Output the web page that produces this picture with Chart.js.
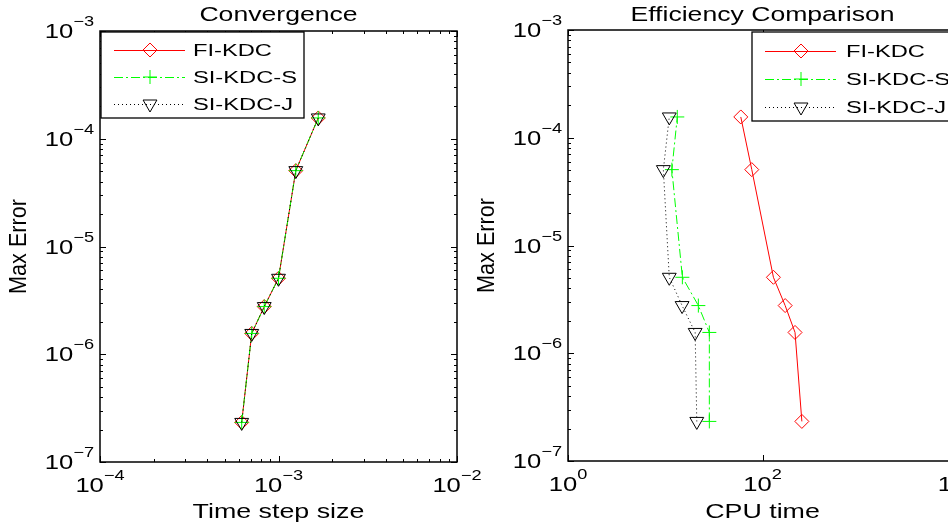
<!DOCTYPE html>
<html><head><meta charset="utf-8">
<script src="https://cdn.jsdelivr.net/npm/chart.js@4/dist/chart.umd.min.js"></script>
<style>
html,body{margin:0;padding:0;background:#fff;overflow:hidden;width:948px;height:527px;position:relative;}
canvas{position:absolute;top:0;}
#c1{left:0px;} #c2{left:474px;}
</style></head><body>
<canvas id="c1" width="500" height="527"></canvas>
<canvas id="c2" width="500" height="527"></canvas>
<script>
// ---------------- data ----------------
const seriesNames = ['FI-KDC', 'SI-KDC-S', 'SI-KDC-J'];
const timeStep = [6.22e-4, 7.08e-4, 8.32e-4, 1.0e-3, 1.25e-3, 1.67e-3];
const errFI = [2.33e-7, 1.56e-6, 2.77e-6, 5.07e-6, 5.06e-5, 1.56e-4];
const errS  = [2.33e-7, 1.56e-6, 2.77e-6, 5.07e-6, 5.06e-5, 1.56e-4];
const errJ  = [2.33e-7, 1.56e-6, 2.77e-6, 5.07e-6, 5.06e-5, 1.56e-4];
const cpuFI = [254, 216, 171, 129.5, 77.6, 59.8];
const cpuS  = [28.4, 28.4, 21.9, 15.0, 11.7, 13.3];
const cpuJ  = [21.1, 20.3, 14.9, 11.0, 9.56, 11.0];
const xExpLeft = [-4, -3, -2];
const xExpRight = [0, 2, 4];
const yExp = [-7, -6, -5, -4, -3];
const titles = ['Convergence', 'Efficiency Comparison'];
const xLabels = ['Time step size', 'CPU time'];
const yLabel = 'Max Error';

// ---------------- helpers ----------------
const FONT = '"Liberation Sans", Arimo, Arial, Helvetica, sans-serif';
function sText(ctx, str, x, y, size, sx, align, sy) {
  ctx.save();
  ctx.font = size + 'px ' + FONT;
  ctx.textBaseline = 'alphabetic';
  ctx.textAlign = 'left';
  ctx.fillStyle = '#000';
  const w = ctx.measureText(str).width * sx;
  const x0 = align === 'center' ? x - w / 2 : (align === 'right' ? x - w : x);
  ctx.translate(x0, y);
  ctx.scale(sx, sy || 1);
  ctx.fillText(str, 0, 0);
  ctx.restore();
  return w;
}
function textW(ctx, str, size, sx) {
  ctx.save(); ctx.font = size + 'px ' + FONT;
  const w = ctx.measureText(str).width * sx; ctx.restore(); return w;
}
const SX_T = 1.28, SX_S = 1.3;
function drawPow(ctx, e, x, y, mode) {
  const base = '10';
  const sup = e < 0 ? '\u2212' + (-e) : String(e);
  const wb = textW(ctx, base, 20, SX_T);
  const ws = textW(ctx, sup, 14, SX_S);
  let left, bl;
  if (mode === 'x') { left = x - (wb + ws) / 2; bl = y; }
  else { left = x - (wb + ws); bl = y + 7; }
  sText(ctx, base, left, bl, 20, SX_T, 'left');
  sText(ctx, sup, left + wb, bl - 12, 14, SX_S, 'left');
}
function drawMarker(ctx, style, x, y, r, color, rot) {
  ctx.save();
  ctx.strokeStyle = color; ctx.lineWidth = 1; ctx.setLineDash([]);
  ctx.beginPath();
  if (style === 'rectRot') {
    ctx.moveTo(x, y - r); ctx.lineTo(x + r, y); ctx.lineTo(x, y + r); ctx.lineTo(x - r, y); ctx.closePath();
  } else if (style === 'cross') {
    ctx.moveTo(x - r, y); ctx.lineTo(x + r, y); ctx.moveTo(x, y - r); ctx.lineTo(x, y + r);
  } else if (style === 'triangle') {
    const s = rot === 180 ? -1 : 1;
    const h = Math.sin(Math.PI / 3) * r;
    ctx.moveTo(x, y - s * r); ctx.lineTo(x + h, y + s * r / 2); ctx.lineTo(x - h, y + s * r / 2); ctx.closePath();
  }
  ctx.stroke();
  ctx.restore();
}
function logTicks(min, max, minor) {
  const out = [];
  const e0 = Math.floor(Math.log10(min) + 1e-9), e1 = Math.ceil(Math.log10(max) - 1e-9);
  for (let e = e0; e <= e1; e++) {
    for (let k = 1; k <= (minor ? 9 : 1); k++) {
      const v = k * Math.pow(10, e);
      if (v >= min * 0.9999 && v <= max * 1.0001) out.push({ v, major: k === 1 });
    }
  }
  return out;
}

const matlabPlugin = {
  id: 'matlabAxes',
  afterDraw(chart, args, o) {
    const ctx = chart.ctx, a = chart.chartArea;
    const xs = chart.scales.x, ys = chart.scales.y;
    ctx.save();
    // tick marks (inward, all four sides)
    ctx.strokeStyle = '#000'; ctx.lineWidth = 1; ctx.setLineDash([]);
    ctx.beginPath();
    const xt = o.xMinor ? logTicks(xs.min, xs.max, true) : o.xExp.map(e => ({ v: Math.pow(10, e), major: true }));
    for (const t of xt) {
      const px = Math.round(xs.getPixelForValue(t.v)) + 0.5;
      const len = t.major ? 6 : 3;
      ctx.moveTo(px, a.bottom); ctx.lineTo(px, a.bottom - len);
      ctx.moveTo(px, a.top); ctx.lineTo(px, a.top + len);
    }
    for (const t of logTicks(ys.min, ys.max, true)) {
      const py = Math.round(ys.getPixelForValue(t.v)) + 0.5;
      const len = t.major ? 6 : 3;
      ctx.moveTo(a.left, py); ctx.lineTo(a.left + len, py);
      ctx.moveTo(a.right, py); ctx.lineTo(a.right - len, py);
    }
    ctx.stroke();
    // box
    ctx.lineWidth = 1.5;
    ctx.strokeRect(a.left, a.top, a.right - a.left, a.bottom - a.top);
    // tick labels
    for (const e of o.xExp) drawPow(ctx, e, xs.getPixelForValue(Math.pow(10, e)), a.bottom + 30, 'x');
    for (const e of o.yExp) drawPow(ctx, e, a.left - 6, ys.getPixelForValue(Math.pow(10, e)), 'y');
    // title and axis labels
    const cx = (a.left + a.right) / 2;
    sText(ctx, o.title, cx, 21, 20, 1.33, 'center');
    sText(ctx, o.xLabel, cx, 518, 20, 1.34, 'center');
    ctx.save();
    ctx.translate(a.left - 82, (a.top + a.bottom) / 2);
    ctx.rotate(-Math.PI / 2);
    sText(ctx, o.yLabel, 0, 8, 20, 1.08, 'center', 1.15);
    ctx.restore();
    // legend
    const L = o.legend;
    const bx = L.anchor === 'nw' ? a.left + 1 : a.right - 2 - L.w;
    const by = a.top + (L.anchor === 'nw' ? 1 : 2);
    ctx.fillStyle = '#fff';
    ctx.fillRect(bx, by, L.w, L.h);
    ctx.lineWidth = 1.3; ctx.strokeStyle = '#000';
    ctx.strokeRect(bx, by, L.w, L.h);
    chart.data.datasets.forEach((ds, i) => {
      const ry = by + L.first + i * L.step;
      ctx.save();
      ctx.strokeStyle = ds.borderColor; ctx.lineWidth = 1;
      ctx.setLineDash(ds.borderDash || []);
      ctx.beginPath(); ctx.moveTo(bx + 13, ry + 0.5); ctx.lineTo(bx + 84, ry + 0.5); ctx.stroke();
      ctx.restore();
      drawMarker(ctx, ds.pointStyle, bx + 49, ry, ds.pointRadius, ds.pointBorderColor, ds.pointRotation || 0);
      sText(ctx, ds.label, bx + L.textX, ry + 6, 16, 1.48, 'left');
    });
    ctx.restore();
  }
};

function makeDatasets(xFI, xS, xJ) {
  return [
    { label: seriesNames[0], data: xFI.map((v, i) => ({ x: v, y: errFI[i] })), order: 3,
      borderColor: '#ff0000', borderWidth: 1, showLine: true, tension: 0,
      pointStyle: 'rectRot', pointRadius: 7, pointBorderColor: '#ff0000', pointBackgroundColor: 'rgba(0,0,0,0)', pointBorderWidth: 1 },
    { label: seriesNames[1], data: xS.map((v, i) => ({ x: v, y: errS[i] })), order: 2,
      borderColor: '#00ff00', borderWidth: 1, borderDash: [9, 3, 2, 3], showLine: true, tension: 0,
      pointStyle: 'cross', pointRadius: 7, pointBorderColor: '#00ff00', pointBackgroundColor: 'rgba(0,0,0,0)', pointBorderWidth: 1 },
    { label: seriesNames[2], data: xJ.map((v, i) => ({ x: v, y: errJ[i] })), order: 1,
      borderColor: '#000000', borderWidth: 1, borderDash: [1, 3], showLine: true, tension: 0,
      pointStyle: 'triangle', pointRotation: 180, pointRadius: 8, pointBorderColor: '#000000', pointBackgroundColor: 'rgba(0,0,0,0)', pointBorderWidth: 1 }
  ];
}

function makeChart(id, datasets, xmin, xmax, yWidth, xHeight, pad, pluginOpts) {
  return new Chart(document.getElementById(id), {
    type: 'scatter',
    data: { datasets },
    options: {
      responsive: false, animation: false, devicePixelRatio: 1, events: [],
      layout: { padding: pad },
      plugins: { legend: { display: false }, title: { display: false }, tooltip: { enabled: false }, matlabAxes: pluginOpts },
      scales: {
        x: { type: 'logarithmic', min: xmin, max: xmax,
             grid: { display: false, drawTicks: false }, border: { display: false }, ticks: { display: false },
             afterFit(s) { s.height = xHeight; } },
        y: { type: 'logarithmic', min: 1e-7, max: 1e-3,
             grid: { display: false, drawTicks: false }, border: { display: false }, ticks: { display: false },
             afterFit(s) { s.width = yWidth; } }
      }
    },
    plugins: [matlabPlugin]
  });
}

makeChart('c1', makeDatasets(timeStep, timeStep, timeStep), 1e-4, 1e-2, 100, 65,
  { left: 0, top: 31, right: 43, bottom: 0 },
  { xExp: xExpLeft, yExp: yExp, xMinor: true, title: titles[0], xLabel: xLabels[0], yLabel: yLabel,
    legend: { anchor: 'nw', w: 203, h: 86, first: 18, step: 27, textX: 92 } });

makeChart('c2', makeDatasets(cpuFI, cpuS, cpuJ), 1, 1e4, 94, 66,
  { left: 0, top: 30, right: 17, bottom: 0 },
  { xExp: xExpRight, yExp: yExp, xMinor: false, title: titles[1], xLabel: xLabels[1], yLabel: yLabel,
    legend: { anchor: 'ne', w: 203, h: 89, first: 19, step: 28, textX: 94 } });
</script>
</body></html>
